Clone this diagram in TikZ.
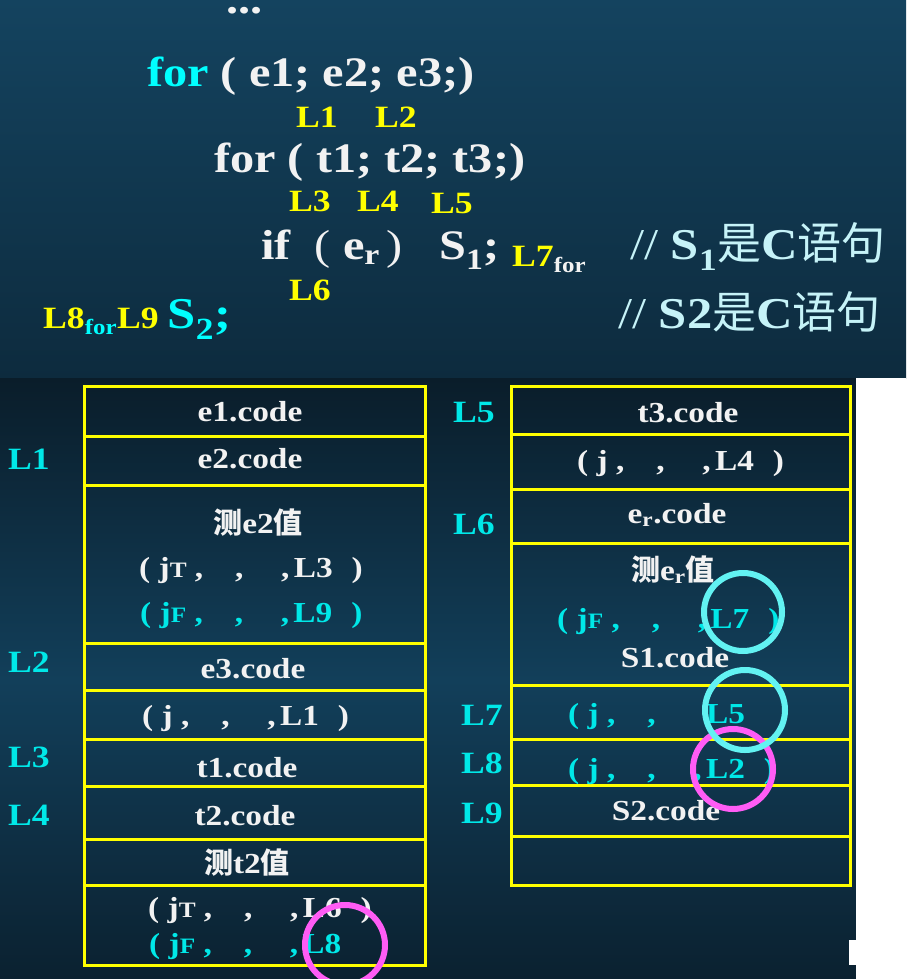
\documentclass[tikz,border=0pt]{standalone}
\usepackage{fontspec}
\setmainfont{Liberation Serif}[FakeStretch=1.15]
\newfontfamily\cjk{Noto Sans CJK SC}
\usepackage{tikz}

\definecolor{topbg}{HTML}{14435F}
\definecolor{topbgend}{HTML}{0D2B3E}
\definecolor{lowbgtop}{HTML}{0A1D2A}
\definecolor{lowbgmid}{HTML}{123F5A}
\definecolor{lowbgend}{HTML}{0B2130}
\definecolor{codewhite}{HTML}{F2F2F2}
\definecolor{forcyan}{HTML}{00FFFF}
\definecolor{lblyellow}{HTML}{FFFF00}
\definecolor{notecyan}{HTML}{C6F3F8}
\definecolor{tabyellow}{HTML}{FFFF00}
\definecolor{tabcyan}{HTML}{00E8E8}
\definecolor{ringcyan}{HTML}{62F2F2}
\definecolor{ringpink}{HTML}{FF5CF5}

% quadruple ( op , , , label )
\newcommand{\tup}[2]{( #1 ,\hspace{1.1em},\hspace{1.3em},\hspace{0.15em}#2\hspace{0.65em})}
\newcommand{\jx}[1]{j{\fontsize{22}{22}\selectfont #1}}

\begin{document}
\begin{tikzpicture}[x=1pt, y=-1pt,
    code/.style={font=\fontsize{42}{44}\selectfont\bfseries, text=codewhite, inner sep=0pt, anchor=base west},
    lbl/.style={font=\fontsize{31}{33}\selectfont\bfseries, text=lblyellow, inner sep=0pt, anchor=base west},
    note/.style={font=\fontsize{44}{46}\selectfont, text=notecyan, inner sep=0pt, anchor=base west},
    cell/.style={font=\fontsize{29}{31}\selectfont\bfseries, text=codewhite, inner sep=0pt, anchor=base},
    tuple/.style={cell, anchor=base west},
    rowlbl/.style={font=\fontsize{31}{33}\selectfont\bfseries, text=tabcyan, inner sep=0pt, anchor=base west},
    tabline/.style={draw=tabyellow, line width=3pt},
    ring/.style={line width=6pt}]

    \useasboundingbox (0,0) rectangle (906,979);

    % backgrounds
    \shade[top color=topbg, bottom color=topbgend] (0,0) rectangle (906,378);
    \shade[top color=lowbgtop, bottom color=lowbgmid] (0,378) rectangle (856,680);
    \shade[top color=lowbgmid, bottom color=lowbgend] (0,680) rectangle (856,979);
    \fill[white] (856,378) rectangle (906,979);
    \fill[white] (849,940) rectangle (856,965);

    % source code
    \node[code] (dots) at (226,14) {...};
    \node[code] (outer) at (147,87) {{\color{forcyan}for} ( e1; e2; e3;)};
    \node[lbl] (uL1) at (296,128) {L1};
    \node[lbl] (uL2) at (375,128) {L2};
    \node[code] (inner) at (214,172) {for ( t1; t2; t3;)};
    \node[lbl] (uL3) at (289,211) {L3};
    \node[lbl] (uL4) at (357,211) {L4};
    \node[lbl] (uL5) at (431,213) {L5};
    \node[code] (cond) at (261,259) {if\ \ {\mdseries(}\ e\textsubscript{r}\,{\mdseries)}\ \ \ S\textsubscript{1};};
    \node[lbl] (uL7) at (512,266) {L7\textsubscript{\color{codewhite}for}};
    \node[note] (note1) at (630,259) {// \textbf{S\textsubscript{1}}{\cjk 是}\textbf{C}{\cjk 语句}};
    \node[lbl] (uL6) at (289,300) {L6};
    \node[lbl] (uL8) at (43,328) {L8\textsubscript{\color{forcyan}for}L9 {\fontsize{44}{46}\selectfont\color{forcyan}S\textsubscript{2};}};
    \node[note] (note2) at (618,328) {// \textbf{S2}{\cjk 是}\textbf{C}{\cjk 语句}};

    % left table
    \draw[tabline] (84,386) rectangle (425,965);
    \foreach \y in {436,485,643,690,739,786,839,885}
        \draw[tabline] (84,\y) -- (425,\y);

    \node[cell] (e1) at (250,421) {e1.code};
    \node[cell] (e2) at (250,468) {e2.code};
    \node[cell] (teste) at (258,533) {{\cjk 测}e2{\cjk 值}};
    \node[tuple] (jt1) at (139,577) {\tup{\jx{T}}{L3}};
    \node[tuple, text=tabcyan] (jf1) at (140,622) {\tup{\jx{F}}{L9}};
    \node[cell] (e3) at (253,678) {e3.code};
    \node[tuple] (j1) at (142,725) {\tup{j}{L1}};
    \node[cell] (t1) at (247,777) {t1.code};
    \node[cell] (t2) at (245,825) {t2.code};
    \node[cell] (testt) at (247,873) {{\cjk 测}t2{\cjk 值}};
    \node[tuple] (jt2) at (148,917) {\tup{\jx{T}}{L6}};
    \node[tuple, text=tabcyan] (jf2) at (149,953) {( \jx{F} ,\hspace{1.1em},\hspace{1.3em},\hspace{0.15em}L8};

    \node[rowlbl] (lL1) at (8,469) {L1};
    \node[rowlbl] (lL2) at (8,672) {L2};
    \node[rowlbl] (lL3) at (8,767) {L3};
    \node[rowlbl] (lL4) at (8,825) {L4};

    % right table
    \draw[tabline] (511,386) rectangle (850,885);
    \foreach \y in {434,489,543,685,739,785,836}
        \draw[tabline] (511,\y) -- (850,\y);

    \node[cell] (t3) at (688,422) {t3.code};
    \node[tuple] (j4) at (577,470) {\tup{j}{L4}};
    \node[cell] (er) at (677,523) {e\textsubscript{r}.code};
    \node[cell] (tester) at (673,580) {{\cjk 测}e\textsubscript{r}{\cjk 值}};
    \node[tuple, text=tabcyan] (jf3) at (557,628) {\tup{\jx{F}}{L7}};
    \node[cell] (s1) at (675,667) {S1.code};
    \node[tuple, text=tabcyan] (j5) at (568,723) {( j ,\hspace{1.1em},\hspace{1.3em}\phantom{,}\hspace{0.15em}L5};
    \node[tuple, text=tabcyan] (j2) at (568,778) {\tup{j}{L2}};
    \node[cell] (s2) at (666,820) {S2.code};

    \node[rowlbl] (rL5) at (453,422) {L5};
    \node[rowlbl] (rL6) at (453,534) {L6};
    \node[rowlbl] (rL7) at (461,725) {L7};
    \node[rowlbl] (rL8) at (461,773) {L8};
    \node[rowlbl] (rL9) at (461,823) {L9};

    % marking circles
    \draw[ring, ringpink] (345,945) circle (40);
    \draw[ring, ringcyan] (743,612) circle (39);
    \draw[ring, ringpink] (733,769) circle (40);
    \draw[ring, ringcyan] (745,710) circle (40);

\end{tikzpicture}
\end{document}
